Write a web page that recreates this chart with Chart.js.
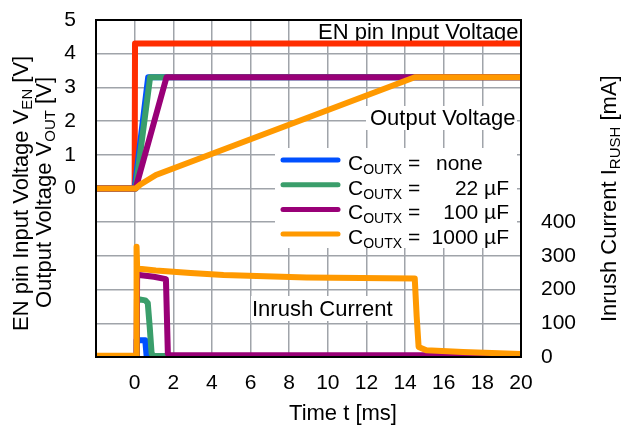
<!DOCTYPE html>
<html>
<head>
<meta charset="utf-8">
<script src="https://cdn.jsdelivr.net/npm/chart.js@4.4.1/dist/chart.umd.min.js"></script>
<style>
  html, body { margin: 0; padding: 0; background: #fff; }
</style>
</head>
<body>
<canvas id="chart" width="622" height="426"></canvas>
<script>
// time axis ticks [ms]
const timeTicks = [-2, 0, 2, 4, 6, 8, 10, 12, 14, 16, 18, 20];

// EN pin input voltage [V]
const enTime = [-2, 0, 0.02, 20];
const enVolt = [0, 0, 4.3, 4.3];

// output voltage [V] per COUTX
const voutNoneTime = [-2, 0, 0.7, 20];
const voutNone = [0, 0, 3.3, 3.3];
const vout22Time = [-2, 0.05, 0.8, 20];
const vout22 = [0, 0, 3.3, 3.3];
const vout100Time = [-2, 0.05, 1.65, 20];
const vout100 = [0, 0, 3.3, 3.3];
const vout1000Time = [-2, 0.05, 0.3, 1.1, 14.5, 20];
const vout1000 = [0, 0, 0.12, 0.4, 3.3, 3.3];

// inrush current [mA] per COUTX
const inrNoneTime = [-2, 0.08, 0.1, 0.55, 0.62, 20];
const inrNone = [3, 3, 50, 50, 3, 3];
const inr22Time = [-2, 0.1, 0.12, 0.55, 0.68, 0.78, 0.88, 1.0, 20];
const inr22 = [3, 3, 172, 168, 160, 90, 10, 3, 3];
const inr100Time = [-2, 0.1, 0.13, 1.0, 1.62, 1.72, 1.85, 20];
const inr100 = [3, 3, 244, 238, 231, 10, 5, 5];
const inr1000Time = [-2, 0.08, 0.1, 0.13, 0.25, 1.1, 2.9, 4.6, 8.9, 14.5, 14.6, 14.7, 15.1, 17, 20];
const inr1000 = [4, 4, 327, 265, 262, 257, 249, 243, 236, 233, 120, 30, 20, 15, 9];

const legendLabels = ['none', '22 \u00b5F', '100 \u00b5F', '1000 \u00b5F'];

const RED = '#FF2D00', BLUE = '#0050FF', GREEN = '#3A9E6B', PURPLE = '#990077', ORANGE = '#FF9900';
const FONT = "'Liberation Sans', Arial, sans-serif";
const GRID = 'rgb(160,164,170)';

function pts(ts, vs) {
  return ts.map((t, i) => ({ x: t, y: vs[i] }));
}

function line(data, color, axis, order) {
  return {
    data: data, borderColor: color, borderWidth: 6, yAxisID: axis, order: order,
    pointRadius: 0, tension: 0, fill: false,
    borderJoinStyle: 'round', borderCapStyle: 'round'
  };
}

function noPad(s) {
  s.paddingTop = 0; s.paddingBottom = 0; s.paddingLeft = 0; s.paddingRight = 0;
}

// text with subscripts: parts = [[text, isSub], ...]
function richWidth(ctx, parts, size, subSize) {
  let w = 0;
  parts.forEach(p => {
    ctx.font = (p[1] ? subSize : size) + 'px ' + FONT;
    w += ctx.measureText(p[0]).width;
  });
  return w;
}
function drawRich(ctx, parts, x, y, size, subSize, align) {
  const w = richWidth(ctx, parts, size, subSize);
  let cx = align === 'center' ? x - w / 2 : align === 'right' ? x - w : x;
  ctx.textAlign = 'left';
  ctx.textBaseline = 'alphabetic';
  parts.forEach(p => {
    ctx.font = (p[1] ? subSize : size) + 'px ' + FONT;
    ctx.fillText(p[0], cx, y + (p[1] ? 4 : 0));
    cx += ctx.measureText(p[0]).width;
  });
}

const decor = {
  id: 'decor',
  beforeDatasetsDraw(chart) {
    const ctx = chart.ctx;
    ctx.save();
    ctx.fillStyle = '#fff';
    ctx.fillRect(316, 21, 204, 21);    // EN label
    ctx.fillRect(366, 106, 151, 24);   // Output Voltage label
    ctx.fillRect(251, 296, 143, 25);   // Inrush Current label
    ctx.fillRect(275, 148, 242, 100);  // legend box
    ctx.fillStyle = '#000';
    drawRich(ctx, [['EN pin Input Voltage', false]], 318, 39, 22, 15, 'left');
    drawRich(ctx, [['Output Voltage', false]], 370, 125, 22, 15, 'left');
    drawRich(ctx, [['Inrush Current', false]], 252, 316, 22, 15, 'left');

    // legend
    const colors = [BLUE, GREEN, PURPLE, ORANGE];
    legendLabels.forEach((lab, i) => {
      const base = 170 + i * 24.7;
      ctx.strokeStyle = colors[i];
      ctx.lineWidth = 5;
      ctx.lineCap = 'round';
      ctx.beginPath();
      ctx.moveTo(283, base - 10);
      ctx.lineTo(338, base - 10);
      ctx.stroke();
      ctx.fillStyle = '#000';
      drawRich(ctx, [['C', false], ['OUTX', true], [' =', false]], 348, base, 21, 14, 'left');
      if (i === 0) {
        drawRich(ctx, [[lab, false]], 436, base, 21, 14, 'left');
      } else {
        drawRich(ctx, [[lab, false]], 509, base, 21, 14, 'right');
      }
    });
    ctx.restore();
  },
  afterDatasetsDraw(chart) {
    const ctx = chart.ctx, a = chart.chartArea;
    ctx.save();
    ctx.strokeStyle = '#000';
    ctx.lineWidth = 2;
    ctx.strokeRect(a.left, a.top, a.right - a.left, a.bottom - a.top);
    ctx.restore();
  },
  afterDraw(chart) {
    const ctx = chart.ctx;
    ctx.save();
    ctx.fillStyle = '#000';
    // left titles
    ctx.save();
    ctx.translate(28, 331);
    ctx.rotate(-Math.PI / 2);
    drawRich(ctx, [['EN pin Input Voltage V', false], ['EN', true], [' [V]', false]], 0, 0, 22, 15, 'left');
    ctx.restore();
    ctx.save();
    ctx.translate(51, 308);
    ctx.rotate(-Math.PI / 2);
    drawRich(ctx, [['Output Voltage V', false], ['OUT', true], [' [V]', false]], 0, 0, 22, 15, 'left');
    ctx.restore();
    // right title
    ctx.save();
    ctx.translate(616, 322);
    ctx.rotate(-Math.PI / 2);
    drawRich(ctx, [['Inrush Current I', false], ['RUSH', true], [' [mA]', false]], 0, 0, 22, 15, 'left');
    ctx.restore();
    // x title
    drawRich(ctx, [['Time t [ms]', false]], 343, 420, 22, 15, 'center');
    ctx.restore();
  }
};

new Chart(document.getElementById('chart'), {
  type: 'line',
  data: {
    datasets: [
      line(pts(enTime, enVolt), RED, 'y', 9),
      line(pts(voutNoneTime, voutNone), BLUE, 'y', 8),
      line(pts(vout22Time, vout22), GREEN, 'y', 7),
      line(pts(vout100Time, vout100), PURPLE, 'y', 6),
      line(pts(vout1000Time, vout1000), ORANGE, 'y', 5),
      line(pts(inrNoneTime, inrNone), BLUE, 'y2', 4),
      line(pts(inr22Time, inr22), GREEN, 'y2', 3),
      line(pts(inr100Time, inr100), PURPLE, 'y2', 2),
      line(pts(inr1000Time, inr1000), ORANGE, 'y2', 1)
    ]
  },
  options: {
    responsive: false,
    animation: false,
    devicePixelRatio: 1,
    layout: { padding: { top: 20, left: 0, right: 0, bottom: 0 } },
    plugins: { legend: { display: false }, tooltip: { enabled: false } },
    scales: {
      x: {
        type: 'linear', min: -2, max: 20,
        afterBuildTicks: s => { s.ticks = timeTicks.map(v => ({ value: v })); },
        ticks: {
          callback: v => v < 0 ? '' : v,
          font: { family: FONT, size: 21 }, color: '#000',
          padding: 14, maxRotation: 0, autoSkip: false
        },
        grid: { color: GRID, lineWidth: 1.5, drawTicks: false },
        border: { color: '#000', width: 2 },
        afterFit: s => { s.height = 69; noPad(s); }
      },
      y: {
        position: 'left', min: -5, max: 5,
        ticks: {
          stepSize: 1, callback: v => v < 0 ? '' : v,
          font: { family: FONT, size: 21 }, color: '#000', padding: 20
        },
        grid: { color: GRID, lineWidth: 1.5, drawTicks: false },
        border: { color: '#000', width: 2 },
        afterFit: s => { s.width = 96; noPad(s); }
      },
      y2: {
        position: 'right', min: 0, max: 1000,
        ticks: {
          stepSize: 100, callback: v => v > 400 ? '' : v,
          font: { family: FONT, size: 21 }, color: '#000', padding: 20
        },
        grid: { drawOnChartArea: false, drawTicks: false },
        border: { color: '#000', width: 2 },
        afterFit: s => { s.width = 101; noPad(s); }
      }
    }
  },
  plugins: [decor]
});
</script>
</body>
</html>
